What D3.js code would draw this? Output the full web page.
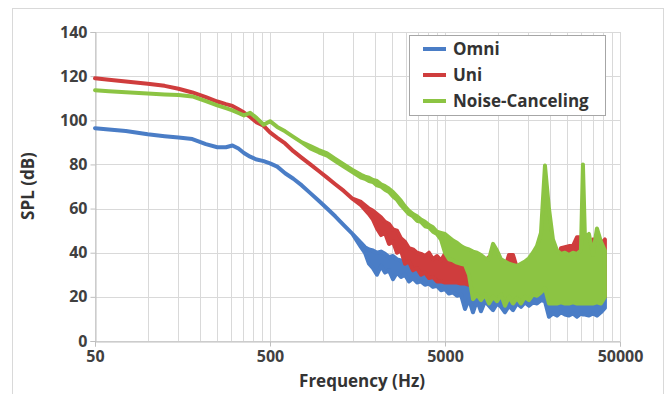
<!DOCTYPE html>
<html>
<head>
<meta charset="utf-8">
<script src="https://cdn.jsdelivr.net/npm/d3@7"></script>
<style>
	body{ margin:0; background:#fff; }
	svg{ display:block; font-family:"Open Sans", sans-serif; font-weight:700; }
	.grid line{ stroke:#d9d9d9; stroke-width:1; }
	.axis path, .axis line{ stroke:#bfbfbf; }
	.axis text{ fill:#404040; font-size:16px; font-weight:700; font-family:"Open Sans", sans-serif; }
	.axis-label{ fill:#333; font-size:17px; }
	.legend text{ fill:#333; font-size:17px; }
</style>
</head>
<body>
<div id="chart"></div>
<script>

// frequency grid (Hz) shared by the three curves
var freq = [50, 60, 75, 100, 125, 150, 180, 215, 250, 280, 305, 330, 355, 385, 420, 460, 500, 550, 610, 680, 760, 850, 950, 1060, 1180, 1320, 1480,
	1656, 1745, 1839, 1939, 2043, 2154, 2270, 2393, 2522, 2659, 2802, 2953, 3113, 3281, 3459, 3646, 3843, 4050, 4269, 4500, 4743,
	5000, 5270, 5555, 5855, 6171, 6504, 6856, 7226, 7616, 8027, 8463, 8920, 9402, 9910, 10445, 11009, 11604, 12230, 12891, 13587,
	14320, 15094, 15909, 16768, 17673, 18628, 19634, 20694, 21811, 22989, 24231, 25539, 26918, 28372, 29904, 30700, 31519, 33221,
	35015, 36906, 38899, 41000];

// SPL (dB): upper and lower edge of each trace (equal where the trace is a clean line)
var omniHi = [96.4, 95.8, 95.1, 93.7, 92.8, 92.2, 91.5, 89.2, 87.8, 87.8, 88.6, 87.2, 85.2, 83.5, 82.2, 81.5, 80.5, 79, 76, 73.5, 70.5, 67, 63.5, 60, 56.5, 52.5, 48.5,
	44.5, 42.5, 41.5, 41, 40, 40.5, 39.5, 38, 38.5, 37, 36.5, 36, 35, 34.5, 34, 33, 32, 31, 30.5, 29.5, 28.5,
	28, 27.5, 27, 27, 26.5, 26, 26, 25.5, 25, 25, 24.5, 24, 24, 23.5, 23.5, 23, 23, 22.5, 22.5, 22,
	22, 22.5, 23, 23.5, 24.5, 25, 22, 20, 19.5, 19.5, 19, 19, 19, 19, 19, 19, 19.5, 19,
	19, 19.5, 21, 23];
var omniLo = [96.4, 95.8, 95.1, 93.7, 92.8, 92.2, 91.5, 89.2, 87.8, 87.8, 88.6, 87.2, 85.2, 83.5, 82.2, 81.5, 80.5, 79, 76, 73.5, 70.5, 67, 63.5, 60, 56.5, 52.5, 48.5,
	42.5, 40, 35, 33, 30, 34, 31, 32, 28, 31, 29, 30, 27, 28.5, 26.5, 27, 25.5, 26, 24.5, 25, 23,
	23.5, 21.5, 22, 20.5, 21, 14.5, 19, 13, 18.5, 13.5, 18, 16, 14, 17, 15.5, 13, 16, 14, 17, 15.5,
	17.5, 16, 17.5, 17, 18.5, 18, 11, 12.5, 11.5, 13, 12, 11.5, 12.5, 11, 12.5, 12, 12, 11.5,
	12.5, 11.5, 13, 15];

var uniHi = [119, 118.4, 117.6, 116.6, 115.6, 114.3, 112.6, 110.5, 108.5, 107.3, 106.5, 105, 103.5, 101.5, 99, 97.5, 94.5, 92, 89.5, 86, 83, 80, 77, 74, 71, 68, 64.5,
	63, 61.5, 60, 59, 57.5, 56, 54, 53, 50.5, 50, 46.5, 45, 42, 41.5, 40, 39.5, 38.5, 40, 37, 38.5, 36.5,
	39.5, 38, 37.5, 36.5, 36, 35.5, 34, 34, 33, 35, 36, 38, 34, 33, 32, 33, 39, 39, 33, 32,
	33, 34, 35, 36, 38, 40, 38, 36, 35, 42, 42.5, 43, 43, 47, 47, 45, 42, 41,
	46, 45, 44, 46];
var uniLo = [119, 118.4, 117.6, 116.6, 115.6, 114.3, 112.6, 110.5, 108.5, 107.3, 106.5, 105, 103.5, 101.5, 99, 97.5, 94.5, 92, 89.5, 86, 83, 80, 77, 74, 71, 68, 64.5,
	61.5, 59.5, 57.5, 55, 51, 48, 49, 44, 45, 40, 41, 35, 36, 32, 33, 30, 31, 28.5, 29, 27, 27,
	26.5, 26.5, 26.5, 26.5, 26, 26, 25.5, 25, 25, 24.5, 24.5, 24, 24, 23.5, 23.5, 23, 23, 22.5, 22.5, 22,
	22, 22, 22.5, 23, 23.5, 24, 22, 19, 19, 19, 19, 19, 19, 19, 19, 19, 19, 19,
	19, 19, 19, 20];

var ncHi = [113.6, 113.2, 112.7, 112.1, 111.7, 111.5, 110.8, 108.7, 106.8, 105.5, 104.5, 103.3, 102.2, 103.4, 101, 98, 99.6, 97, 95, 92.5, 90, 88.3, 86.5, 85, 82.5, 80, 77.5,
	75.3, 74.5, 74, 73, 72.5, 71, 70.2, 69, 67.5, 65.5, 63.5, 61, 59, 57.5, 56.5, 55, 54, 52.5, 51.5, 49.5, 49,
	48.5, 47, 45.5, 44.5, 43, 42, 41.5, 40.5, 40, 39, 37.5, 37, 44, 41, 37, 36, 35, 34.5, 34, 35,
	36, 37.5, 40, 43, 49, 79.5, 60, 46, 41, 39.5, 40, 39, 40, 39.5, 41, 80, 47, 48.5,
	39, 51, 45, 41];
var ncLo = [113.6, 113.2, 112.7, 112.1, 111.7, 111.5, 110.8, 108.7, 106.8, 105.5, 104.5, 103.3, 102.2, 103.4, 101, 98, 99.6, 97, 95, 92.5, 90, 87.3, 85.5, 84, 81.5, 79, 76.5,
	74, 73.5, 72.5, 72, 70.5, 70, 68.5, 67.5, 65.5, 64, 61.5, 59.5, 57.5, 56.5, 54.5, 54, 52, 51.5, 49.5, 48.5, 46,
	40, 37, 36.5, 35.5, 35, 34.5, 30, 19, 21, 18.5, 21, 17, 20, 18, 21, 16, 20, 17, 19.5, 17,
	20, 18.5, 21, 20.5, 22, 24, 17, 17, 17, 17.5, 17, 17, 17.5, 17, 17, 17, 17, 17,
	17, 17.5, 17, 20];

var seriesNames = ["Omni", "Uni", "Noise-Canceling"];
var seriesColors = ["#4a7dc6", "#cf3d3d", "#8cc443"];
var xTicks = [50, 500, 5000, 50000];
var yTicks = [0, 20, 40, 60, 80, 100, 120, 140];

/////////////////////////

var width = 671, height = 394;
var plot = {left:95, right:620, top:32, bottom:341};

var svg = d3.select("#chart").append("svg")
	.attr("width", width)
	.attr("height", height);

// chart frame
svg.append("rect")
	.attr("x", 12.5).attr("y", 8.5)
	.attr("width", 651).attr("height", 400)
	.attr("fill", "none")
	.attr("stroke", "#d9d9d9");

var x = d3.scaleLog().domain([50, 50000]).range([plot.left, plot.right]);
var y = d3.scaleLinear().domain([0, 140]).range([plot.bottom, plot.top]);

// gridlines: every 20 dB, and 1..9 x 50 in every decade
var vLines = [];
[50, 500, 5000].forEach(function(d){
	for(var m=1; m<=9; m++) vLines.push(d*m);
});
vLines.push(50000);

var grid = svg.append("g").attr("class", "grid");
grid.selectAll(".h").data(yTicks).enter().append("line")
	.attr("x1", plot.left).attr("x2", plot.right)
	.attr("y1", function(d){ return Math.round(y(d))+0.5; })
	.attr("y2", function(d){ return Math.round(y(d))+0.5; });
grid.selectAll(".v").data(vLines).enter().append("line")
	.attr("y1", plot.top).attr("y2", plot.bottom)
	.attr("x1", function(d){ return Math.round(x(d))+0.5; })
	.attr("x2", function(d){ return Math.round(x(d))+0.5; });

// Axes
svg.append("g")
	.attr("class", "axis")
	.attr("transform", "translate(0,"+(plot.bottom+0.5)+")")
	.call(d3.axisBottom(x).tickValues(xTicks).tickFormat(d3.format("d")).tickSize(5).tickPadding(4));
svg.append("g")
	.attr("class", "axis")
	.attr("transform", "translate("+(plot.left+0.5)+",0)")
	.call(d3.axisLeft(y).tickValues(yTicks).tickSize(5).tickPadding(3));

// Traces: band between lower and upper edge, drawn back to front
var band = d3.area()
	.x(function(d){ return x(d.f); })
	.y0(function(d){ return y(d.lo); })
	.y1(function(d){ return y(d.hi); });

var traces = [[omniLo, omniHi], [uniLo, uniHi], [ncLo, ncHi]];
traces.forEach(function(t, i){
	var pts = freq.map(function(f, j){ return {f:f, lo:t[0][j], hi:t[1][j]}; });
	svg.append("path")
		.datum(pts)
		.attr("d", band)
		.attr("fill", seriesColors[i])
		.attr("stroke", seriesColors[i])
		.attr("stroke-width", 4)
		.attr("stroke-linejoin", "round");
});

// Legend
var legend = svg.append("g").attr("class", "legend");
legend.append("rect")
	.attr("x", 409.5).attr("y", 35.5)
	.attr("width", 196).attr("height", 80)
	.attr("fill", "#fff")
	.attr("stroke", "#a6a6a6");
seriesNames.forEach(function(name, i){
	var ly = 49 + i*26;
	legend.append("line")
		.attr("x1", 423).attr("x2", 446)
		.attr("y1", ly).attr("y2", ly)
		.attr("stroke", seriesColors[i])
		.attr("stroke-width", 4);
	legend.append("text")
		.attr("x", 453).attr("y", ly)
		.attr("dy", "0.36em")
		.text(name);
});

// Axis Labels
svg.append("text")
	.attr("class", "axis-label")
	.attr("transform", "translate(34,186) rotate(-90)")
	.style("text-anchor", "middle")
	.text("SPL (dB)");
svg.append("text")
	.attr("class", "axis-label")
	.attr("x", 362).attr("y", 387)
	.style("text-anchor", "middle")
	.text("Frequency (Hz)");

</script>
</body>
</html>
